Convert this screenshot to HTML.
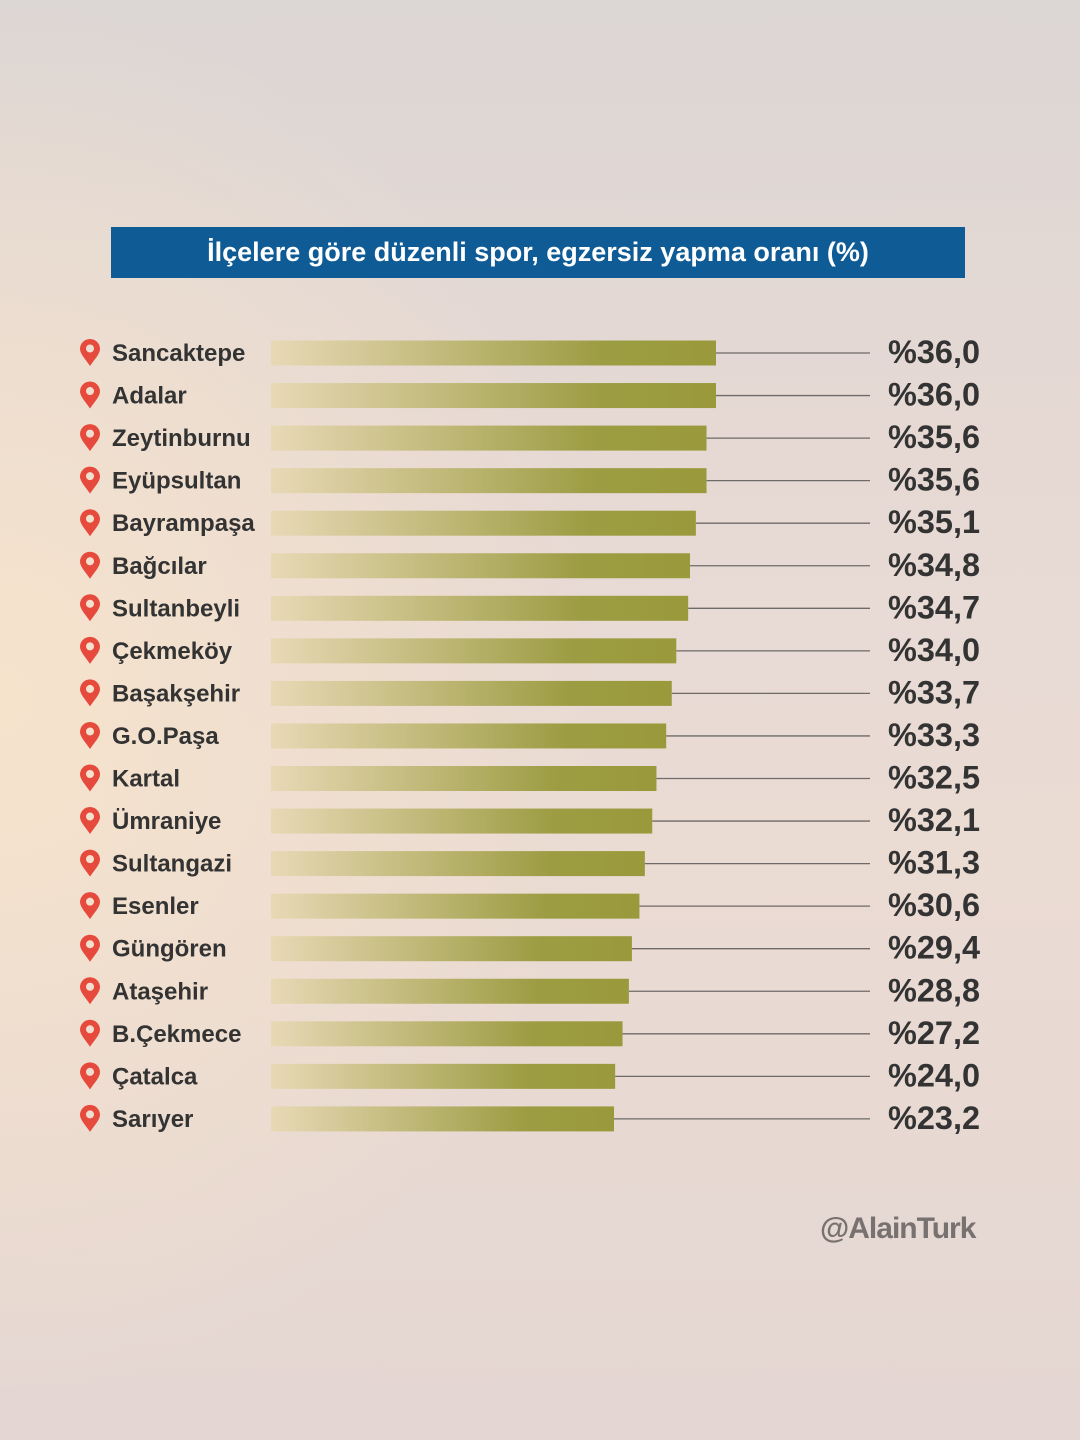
<!DOCTYPE html>
<html><head><meta charset="utf-8">
<style>
html,body{margin:0;padding:0}
body{width:1080px;height:1440px;position:relative;overflow:hidden;font-family:"Liberation Sans","DejaVu Sans",sans-serif;
background:radial-gradient(ellipse 600px 700px at 0px 700px,#f6e3cc 0%,rgba(246,227,204,0) 100%),linear-gradient(180deg,#dcd6d4 0%,#e6d9d4 30%,#eadbd3 60%,#e4d6d2 100%);}
#title{position:absolute;left:111px;top:227px;width:854px;height:51px;background:#0e5b95;color:#fff;font-weight:bold;font-size:27px;text-align:center;line-height:51px}
#wm{position:absolute;left:820px;top:1212px;font-size:30px;font-weight:bold;color:#77716f;letter-spacing:-1px}
</style></head><body>
<div id="title">İlçelere göre düzenli spor, egzersiz yapma oranı (%)</div>
<svg id="chart" width="1080" height="1440" style="position:absolute;left:0;top:0">
<defs><linearGradient id="bg" x1="0" x2="1" y1="0" y2="0"><stop offset="0" stop-color="#e8d9b6"/><stop offset="0.75" stop-color="#9c9c42"/><stop offset="1" stop-color="#9a9a3c"/></linearGradient></defs>
</svg>
<div id="wm">@AlainTurk</div>
<script>
const categories=["Sancaktepe","Adalar","Zeytinburnu","Eyüpsultan","Bayrampaşa","Bağcılar","Sultanbeyli","Çekmeköy","Başakşehir","G.O.Paşa","Kartal","Ümraniye","Sultangazi","Esenler","Güngören","Ataşehir","B.Çekmece","Çatalca","Sarıyer"];
const values=[36.0,36.0,35.6,35.6,35.1,34.8,34.7,34.0,33.7,33.3,32.5,32.1,31.3,30.6,29.4,28.8,27.2,24.0,23.2];
const valueLabels=["%36,0","%36,0","%35,6","%35,6","%35,1","%34,8","%34,7","%34,0","%33,7","%33,3","%32,5","%32,1","%31,3","%30,6","%29,4","%28,8","%27,2","%24,0","%23,2"];
const svg=document.getElementById('chart');const NS="http://www.w3.org/2000/svg";
const x0=271;
const vmin=Math.min(...values),vmax=Math.max(...values),K=0.23;
function xLen(v){return 343+102*(Math.exp(K*(v-vmin))-1)/(Math.exp(K*(vmax-vmin))-1);}
function yC(i){return 353+i*42.55;}
function mk(t,a){const e=document.createElementNS(NS,t);for(const k in a)e.setAttribute(k,a[k]);svg.appendChild(e);return e;}
categories.forEach((c,i)=>{
 const y=yC(i),w=xLen(values[i]);
 const ln=mk('line',{x1:x0+w,x2:870,y1:y,y2:y,stroke:'#6e6a68','stroke-width':1.3});
 
 
 const r=mk('rect',{x:x0,y:y-12.5,width:w,height:25,fill:'url(#bg)'});
 
 
 const p=mk('path',{d:`M${90},${y+13} C${86},${y+7} ${80},${y+1} ${80},${y-4} A10,10 0 1 1 ${100},${y-4} C${100},${y+1} ${94},${y+7} ${90},${y+13} Z M${90},${y-8.5} a4,4 0 1 0 0.01,0 Z`,fill:'#e64a3c','fill-rule':'evenodd'});
 
 
 const t=mk('text',{x:112,y:y+8,'font-size':24,'font-weight':'bold',fill:'#333',textLength:c.length*12.6>130?undefined:undefined});t.removeAttribute('textLength');t.textContent=c;
 
 
 const v=mk('text',{x:888,y:y+10,'font-size':32,'font-weight':'bold',fill:'#333',textLength:92,lengthAdjust:'spacingAndGlyphs'});v.textContent=valueLabels[i];
 
 
});
</script>
</body></html>
